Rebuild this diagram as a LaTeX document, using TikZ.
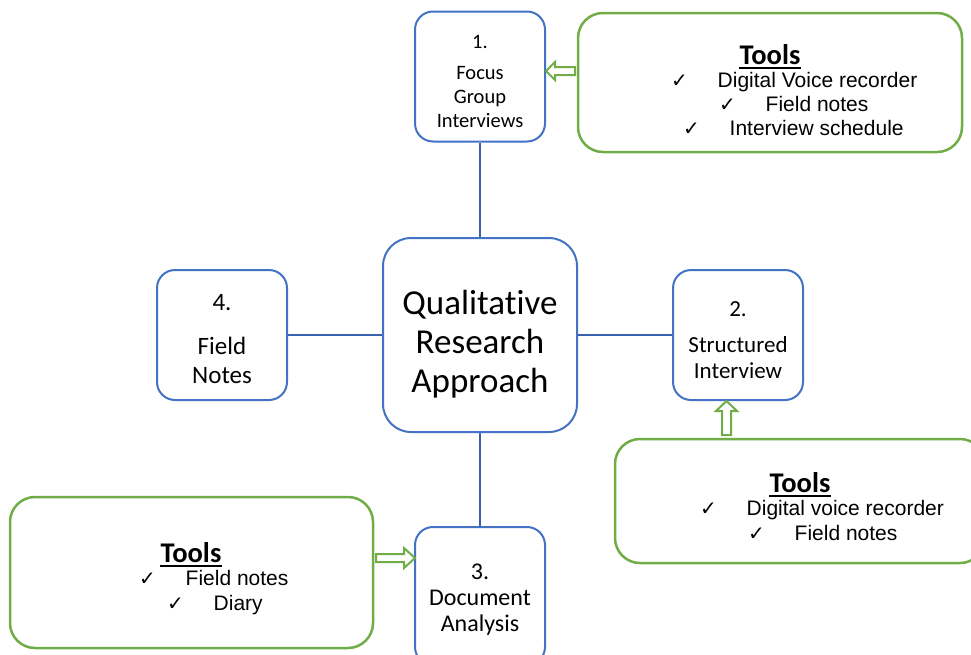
\documentclass[tikz,border=0pt]{standalone}
\usepackage{fontspec}
\setmainfont{Carlito}[Ligatures=NoCommon]
\newfontfamily\arialfont{Liberation Sans}
\newfontfamily\tickfont{DejaVu Sans}
\definecolor{boxblue}{HTML}{4472C4}
\definecolor{linkblue}{HTML}{3A62AE}
\definecolor{toolgreen}{HTML}{70AD47}
\newcommand\tick{\makebox[46.5pt][l]{\tickfont\fontsize{20pt}{20pt}\selectfont ✓}}
\tikzset{
  stage/.style={draw=boxblue, line width=2pt, rounded corners=18pt, fill=white, inner sep=0pt},
  toolbox/.style={draw=toolgreen, line width=2.5pt, rounded corners=25pt, inner sep=0pt},
  link/.style={draw=linkblue, line width=2.5pt},
  flowarrow/.style={draw=toolgreen, line width=2pt, fill=white, line join=miter},
  stagetext/.style={align=center, inner sep=0pt, text depth=0pt},
  toolhead/.style={font=\fontsize{28.5pt}{30pt}\selectfont\bfseries, inner sep=0pt},
  toolitem/.style={anchor=west, inner sep=0pt, text height=15pt, text depth=0pt,
    font=\arialfont\fontsize{21pt}{24pt}\selectfont},
}
\begin{document}
\begin{tikzpicture}[x=1pt, y=-1pt]
\useasboundingbox (0,0) rectangle (971,654);
\clip (0,0) rectangle (971,654);

% research stages
\node[stage, minimum width=130pt, minimum height=130pt] (focus) at (480,76.5) {};
\node[stage, rounded corners=28pt, minimum width=194pt, minimum height=194pt] (core) at (480,335) {};
\node[stage, minimum width=130pt, minimum height=130pt] (notes) at (222,335) {};
\node[stage, minimum width=130pt, minimum height=130pt] (struct) at (738,335) {};
\node[stage, minimum width=130pt, minimum height=138pt] (docs) at (480,596) {};

% links from the approach to each stage
\draw[link] (focus.south) -- (core.north);
\draw[link] (core.west) -- (notes.east);
\draw[link] (core.east) -- (struct.west);
\draw[link] (core.south) -- (docs.north);

% stage labels
\node[stagetext, font=\fontsize{20.5pt}{24pt}\selectfont] (focuslabel) at (480,81.5)
  {1.\\[7pt]Focus\\Group\\Interviews};
\node[stagetext, font=\fontsize{35pt}{39pt}\selectfont] (corelabel) at (480,341)
  {Qualitative\\Research\\Approach};
\node[stagetext, font=\fontsize{25pt}{29pt}\selectfont] (noteslabel) at (222,338.5)
  {4.\\[15pt]Field\\Notes};
\node[stagetext, font=\fontsize{23pt}{26pt}\selectfont] (structlabel) at (738,340)
  {2.\\[10pt]Structured\\Interview};
\node[stagetext, font=\fontsize{24pt}{26pt}\selectfont] (docslabel) at (480,598)
  {3.\\Document\\Analysis};

% tool panels
\node[toolbox, minimum width=384pt, minimum height=139pt] (toolsA) at (770,82.5) {};
\node[toolbox, minimum width=370pt, minimum height=124pt] (toolsB) at (800,501) {};
\node[toolbox, minimum width=363pt, minimum height=151pt] (toolsC) at (191.5,572.5) {};

% panel headings
\node[toolhead] (headA) at (770,55) {Tools};
\node[toolhead] (headB) at (800,483) {Tools};
\node[toolhead] (headC) at (191,553) {Tools};
\foreach \h in {headA,headB,headC}
  \draw[line width=2pt] ([yshift=-3pt]\h.base west) -- ([yshift=-3pt]\h.base east);

% panel items
\node[toolitem] (itemA1) at (671,80) {\tick Digital Voice recorder};
\node[toolitem] (itemA2) at (719,104) {\tick Field notes};
\node[toolitem] (itemA3) at (683,128) {\tick Interview schedule};
\node[toolitem] (itemB1) at (700,508) {\tick Digital voice recorder};
\node[toolitem] (itemB2) at (748,533) {\tick Field notes};
\node[toolitem] (itemC1) at (139,578) {\tick Field notes};
\node[toolitem] (itemC2) at (167,603) {\tick Diary};

% block arrows from the panels to their stages
\coordinate (tipA) at (546,71);
\draw[flowarrow] (tipA) -- ++(9,-9) -- ++(0,5) -- ++(20,0) -- ++(0,8)
  -- ++(-20,0) -- ++(0,5) -- cycle;
\coordinate (tipB) at (726.5,401);
\draw[flowarrow] (tipB) -- ++(10.5,10) -- ++(-6,0) -- ++(0,24) -- ++(-9,0)
  -- ++(0,-24) -- ++(-6,0) -- cycle;
\coordinate (tipC) at (415,558);
\draw[flowarrow] (tipC) -- ++(-11,10) -- ++(0,-6) -- ++(-28,0) -- ++(0,-8)
  -- ++(28,0) -- ++(0,-6) -- cycle;
\end{tikzpicture}
\end{document}
